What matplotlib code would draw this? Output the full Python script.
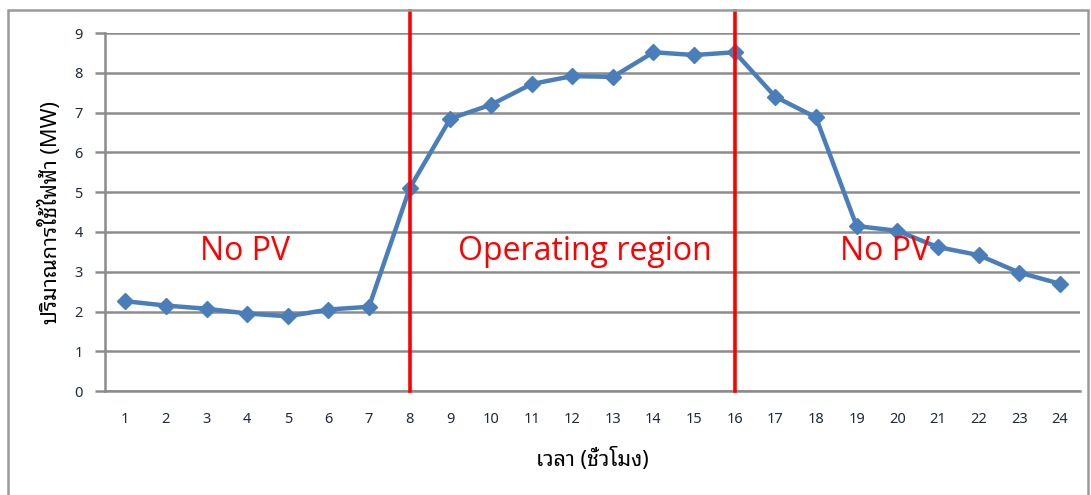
import matplotlib.pyplot as plt
from matplotlib.patches import Rectangle

# ข้อมูลปริมาณการใช้ไฟฟ้ารายชั่วโมง
hours = list(range(1, 25))
load_mw = [2.26, 2.15, 2.07, 1.95, 1.88, 2.05, 2.12, 5.10, 6.85, 7.20, 7.72, 7.92,
           7.90, 8.52, 8.45, 8.52, 7.40, 6.88, 4.15, 4.03, 3.62, 3.42, 2.98, 2.70]
region_bounds = [8, 16]
region_labels = ["No PV", "Operating region", "No PV"]
region_label_x = [3.95, 12.3, 19.7]

thai_fonts = ['Noto Sans Thai Looped', 'DejaVu Sans']
plt.rcParams['font.family'] = thai_fonts

fig = plt.figure(figsize=(10.91, 4.95), dpi=100)
ax = fig.add_axes([0.0962, 0.210, 0.8938, 0.723])

ax.plot(hours, load_mw, color="#4a7ebb", linewidth=3.2, marker="D",
        markersize=8.5, zorder=3)

for b in region_bounds:
    ax.plot([b, b], [0, 9.55], color="red", linewidth=2.6, clip_on=False, zorder=4)

for lx, lab in zip(region_label_x, region_labels):
    ax.text(lx, 3.5, lab, color="red", fontsize=23, ha="center", va="center",
            family=["Open Sans", "DejaVu Sans"], zorder=5)

ax.set_xlim(0.5, 24.5)
ax.set_ylim(0, 9)
ax.set_xticks(hours)
ax.set_yticks(range(0, 10))
ax.grid(axis="y", color="#8c8c8c", linewidth=1.8)
ax.set_axisbelow(True)
for s in ["top", "right"]:
    ax.spines[s].set_visible(False)
ax.spines["left"].set_color("#8c8c8c")
ax.spines["left"].set_linewidth(1.8)
ax.spines["bottom"].set_color("#8c8c8c")
ax.spines["bottom"].set_linewidth(1.8)
ax.tick_params(axis="y", length=7, width=1.8, color="#8c8c8c", labelsize=10.5,
               pad=9, labelcolor="#1f2a3a")
ax.tick_params(axis="x", length=0, labelsize=10.5, pad=15, labelcolor="#1f2a3a")

ax.set_xlabel("เวลา (ชั่วโมง)", fontsize=15.5, labelpad=15)
ax.set_ylabel("ปริมาณการใช้ไฟฟ้า (MW)", fontsize=15.5, labelpad=9)

# กรอบรอบแผนภูมิ
fig.patches.append(Rectangle((8 / 1091, -0.1), 1080 / 1091, 1.1 - 10 / 495,
                             transform=fig.transFigure, fill=False,
                             edgecolor="#9a9a9a", linewidth=1.8))

fig.savefig("out.png", dpi=100)
